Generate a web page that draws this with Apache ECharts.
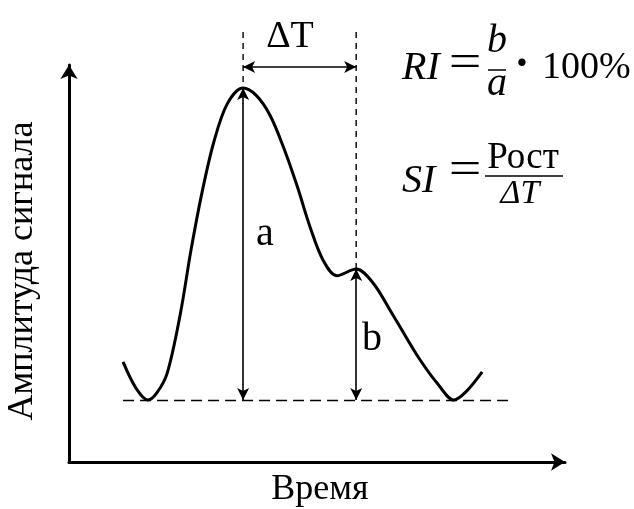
<!DOCTYPE html>
<html>
<head>
<meta charset="utf-8">
<script src="https://cdn.jsdelivr.net/npm/echarts@6/dist/echarts.min.js"></script>
<style>
html, body { margin: 0; padding: 0; background: #fff; }
#chart { width: 634px; height: 509px; }
</style>
</head>
<body>
<div id="chart"></div>
<script>
// signal shape (arbitrary units)
const time = [10.9, 13.5, 15.9, 17.7, 19.8, 22.4, 24.6, 26.8, 29.2, 31.9, 35.1, 37.7, 40.5, 43.3, 46.0, 48.6, 51.2, 54.0, 57.9, 61.3, 64.7, 67.7, 70.8, 74.2, 77.6, 80.2, 83.3];
const amplitude = [25.2, 18.6, 15.6, 17.4, 22.4, 37.0, 53.4, 67.8, 80.6, 90.2, 94.2, 92.4, 87.4, 79.1, 69.5, 59.2, 50.9, 46.9, 48.6, 45.1, 38.3, 32.0, 25.7, 19.9, 15.6, 17.9, 22.7];

const peak = [35.1, 94.2];      // a
const shoulder = [57.9, 48.6];  // b
const baseline = 15.6;
const baselineSpan = [10.9, 89.5];
const guideTop = 108.3;
const deltaLevel = 99.5;

const serif = '"Liberation Serif", "Times New Roman", serif';

let chart = echarts.init(document.getElementById('chart'));

let solid = { color: '#000', width: 1.6, type: 'solid' };
let dashedH = { color: '#000', width: 1.4, type: [11, 6] };

function txt(text, x, y, size, opts) {
    opts = opts || {};
    return {
        type: 'text',
        x: x, y: y,
        rotation: opts.rotation || 0,
        scaleX: opts.scaleX || 1,
        scaleY: opts.scaleY || 1,
        style: {
            text: text,
            font: (opts.weight ? opts.weight + ' ' : '') + (opts.italic ? 'italic ' : '') + size + 'px ' + serif,
            fill: '#000',
            align: opts.align || 'center',
            textAlign: opts.align || 'center',
            verticalAlign: 'middle',
            textVerticalAlign: 'middle'
        }
    };
}

function bar(x1, x2, y) {
    return {
        type: 'line',
        shape: { x1: x1, y1: y, x2: x2, y2: y },
        style: { stroke: '#000', lineWidth: 1.5 }
    };
}

// dashed guide from top down to a point of the curve
function guide(pt) {
    return {
        type: 'line',
        data: [[pt[0], guideTop], pt],
        showSymbol: false,
        clip: false,
        silent: true,
        lineStyle: { color: '#000', width: 1.4, type: [6, 5] }
    };
}

let axisBase = {
    type: 'value', min: 0, max: 100,
    axisLine: { show: true, lineStyle: { color: '#000', width: 3 }, symbol: ['none', 'arrow'], symbolSize: [13, 14] },
    axisTick: { show: false }, axisLabel: { show: false }, splitLine: { show: false }
};

let option = {
    animation: false,
    grid: { left: 69, right: 69, top: 65, bottom: 47 },
    xAxis: axisBase,
    yAxis: axisBase,
    series: [{
        type: 'line',
        data: time.map((t, i) => [t, amplitude[i]]),
        smooth: 0.33,
        showSymbol: false,
        clip: false,
        lineStyle: { color: '#000', width: 3 },
        markLine: {
            silent: true,
            symbol: ['arrow', 'arrow'],
            symbolSize: [9, 12],
            label: { show: false },
            data: [
                [{ coord: [peak[0], baseline], lineStyle: solid }, { coord: peak }],
                [{ coord: [shoulder[0], baseline], lineStyle: solid }, { coord: shoulder }],
                [{ coord: [peak[0], deltaLevel], lineStyle: solid }, { coord: [shoulder[0], deltaLevel] }],
                [{ coord: [baselineSpan[0], baseline], symbol: 'none', lineStyle: dashedH }, { coord: [baselineSpan[1], baseline], symbol: 'none' }]
            ]
        }
    }, guide(peak), guide(shoulder)],
    graphic: [
        txt('ΔT', 290, 37, 38),
        txt('a', 265, 234, 40),
        txt('b', 372, 339, 40),
        txt('Время', 320, 490, 36),
        txt('Амплитуда сигнала', 23, 271, 36, { rotation: Math.PI / 2 }),
        // RI = b/a · 100%
        txt('RI', 402, 68, 40, { italic: true, align: 'left' }),
        txt('=', 465, 64, 40, { scaleX: 1.45, scaleY: 1.15 }),
        txt('b', 497, 41, 40, { italic: true }),
        bar(488, 506, 70),
        txt('a', 497, 84, 40, { italic: true }),
        txt('·', 522, 66, 46, { weight: 'bold' }),
        txt('100%', 542, 68, 38, { align: 'left' }),
        // SI = Рост / ΔT
        txt('SI', 402, 181, 40, { italic: true, align: 'left' }),
        txt('=', 465, 171, 40, { scaleX: 1.45, scaleY: 1.15 }),
        txt('Рост', 523, 158, 37),
        bar(485, 563, 176),
        txt('ΔT', 520, 194, 34, { italic: true })
    ]
};

chart.setOption(option);
</script>
</body>
</html>
